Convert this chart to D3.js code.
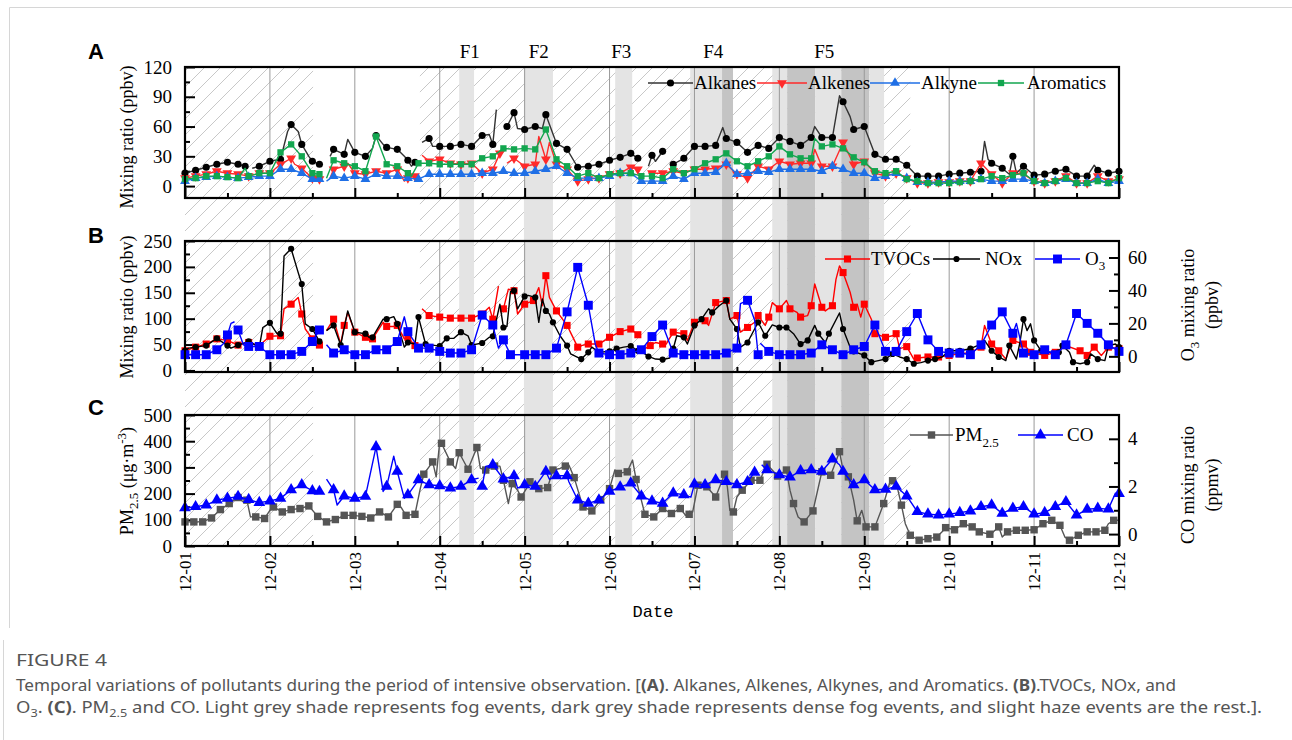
<!DOCTYPE html>
<html>
<head>
<meta charset="utf-8">
<script src="https://cdn.jsdelivr.net/npm/d3@7"></script>
<style>
  body { margin: 0; background: #fff; }
</style>
</head>
<body>
<svg id="chart" width="1292" height="740" font-family="Liberation Serif, Times New Roman, serif"></svg>
<script>
// ---------------------------------------------
// data: hours since 12-01 00:00, value (null = gap)
// ---------------------------------------------
const dayLabels = ["12-01","12-02","12-03","12-04","12-05","12-06","12-07","12-08","12-09","12-10","12-11","12-12"];

// slight haze periods (hatched) and fog / dense fog shades
const hazePeriods = [[0, 36.2], [66.4, 205]];
const fogBands = [
  [77.5, 81.7, "fog"], [95.8, 104, "fog"], [121.6, 126.4, "fog"],
  [142.8, 151.8, "fog"], [151.8, 154.9, "dense"],
  [166, 170.2, "fog"], [170.2, 178.1, "dense"], [178.1, 185.5, "fog"],
  [185.5, 193.4, "dense"], [193.4, 197.6, "fog"]
];
const fogLabels = [["F1", 80.5], ["F2", 100], ["F3", 123.3], ["F4", 149.3], ["F5", 180.7]];

// panel A (ppbv)
const alkanes = [[0,13],[3,16],[6,19],[9,22],[12,24],[15,22],[17,20],[18,null],[19,18],[21,20],[24,25],[27,27],[29,55],[30,62],[32,55],[33,42],[35,30],[36,25],[38,22],[39,null],[41,30],[42,37],[45,32],[46,47],[48,34],[51,30],[53,38],[54,51],[56,42],[57,39],[60,37],[62,30],[63,26],[64,20],[65,24],[66,null],[67,44],[69,48],[70,40],[72,40],[75,40],[78,42],[81,40],[84,51],[86,52],[87,42],[88,77],[89,null],[91,60],[93,74],[94,58],[96,57],[99,60],[101,58],[102,72],[105,43],[108,37],[111,19],[114,20],[117,22],[120,26],[123,29],[126,33],[128,28],[129,null],[131,20],[132,31],[133,25],[135,35],[136,null],[138,22],[141,28],[144,40],[147,40],[150,41],[152,59],[153,48],[156,44],[159,34],[162,41],[165,38],[168,49],[171,45],[174,41],[177,49],[178,60],[180,49],[183,49],[185,91],[186,85],[188,70],[189,57],[192,60],[195,32],[198,27],[201,27],[204,21],[207,10],[210,10],[213,10],[216,12],[219,13],[222,14],[225,15],[226,45],[227,27],[228,23],[231,18],[233,12],[234,30],[235,13],[237,20],[240,11],[243,12],[246,15],[249,17],[252,10],[255,10],[257,21],[258,16],[261,13],[264,15]];
const alkenes = [[0,8],[3,10],[6,12],[9,15],[12,13],[15,12],[18,10],[21,13],[24,13],[27,22],[30,28],[31,22],[33,18],[36,8],[38,7],[39,null],[41,8],[42,17],[45,20],[46,23],[48,13],[51,12],[54,15],[57,13],[60,17],[62,5],[63,8],[65,10],[66,null],[67,31],[69,25],[72,27],[75,23],[78,22],[81,23],[84,13],[87,17],[89,33],[90,null],[91,23],[93,28],[96,20],[99,22],[100,50],[102,27],[103,44],[105,22],[108,17],[111,5],[114,7],[117,8],[120,12],[123,13],[126,19],[128,17],[129,null],[131,13],[132,13],[135,13],[138,15],[141,13],[144,17],[147,17],[150,18],[153,22],[156,12],[159,8],[162,20],[165,17],[168,25],[171,22],[174,23],[177,23],[178,37],[180,20],[183,20],[186,44],[189,22],[192,25],[195,13],[198,10],[201,13],[204,8],[207,3],[210,3],[213,4],[216,4],[219,5],[222,5],[225,23],[228,12],[231,3],[234,13],[237,12],[240,5],[243,3],[246,5],[249,10],[252,3],[255,3],[258,10],[261,5],[264,7]];
const alkyne = [[0,5],[3,8],[6,9],[9,10],[12,9],[15,8],[18,9],[21,10],[24,10],[27,17],[30,17],[33,13],[36,7],[38,7],[39,null],[40,5],[42,10],[45,8],[48,10],[51,7],[54,12],[57,10],[60,10],[63,8],[66,7],[69,12],[72,12],[75,12],[78,12],[81,12],[84,13],[87,13],[90,15],[93,13],[96,13],[99,15],[102,17],[105,20],[108,13],[111,8],[114,8],[117,8],[120,10],[123,13],[126,13],[129,5],[132,5],[135,5],[138,10],[141,7],[144,13],[147,13],[150,14],[153,23],[156,12],[159,13],[162,15],[165,14],[168,17],[171,17],[174,17],[177,17],[180,15],[183,20],[186,17],[189,13],[192,13],[195,8],[198,10],[201,13],[204,8],[207,4],[210,4],[213,4],[216,5],[219,5],[222,5],[225,7],[228,5],[231,5],[234,7],[237,7],[240,5],[243,3],[246,5],[249,7],[252,3],[255,3],[258,7],[261,3],[264,5]];
const aromatics = [[0,7],[3,8],[6,10],[9,10],[12,9],[15,8],[17,18],[18,10],[21,13],[24,13],[27,34],[30,42],[33,30],[36,13],[38,12],[39,null],[40,8],[42,26],[45,23],[48,20],[51,15],[54,50],[57,22],[60,20],[63,13],[64,10],[66,23],[69,23],[72,22],[75,22],[78,22],[81,22],[84,28],[87,30],[90,38],[93,37],[96,38],[99,37],[102,57],[105,27],[108,20],[111,10],[114,13],[117,8],[120,12],[123,13],[126,13],[129,10],[132,10],[135,8],[138,17],[141,13],[144,17],[147,23],[150,27],[153,33],[156,25],[159,20],[162,25],[165,30],[168,40],[171,32],[174,28],[177,28],[178,48],[180,40],[183,42],[186,38],[189,29],[192,24],[195,15],[198,13],[201,15],[204,7],[207,5],[210,3],[213,3],[216,3],[219,4],[222,5],[225,7],[228,10],[231,8],[234,11],[237,13],[240,5],[243,3],[246,5],[249,8],[252,3],[255,3],[258,5],[261,3],[264,8]];

// panel B (ppbv)
const tvocs = [[0,38],[3,45],[6,51],[9,61],[12,58],[15,49],[18,54],[21,48],[24,66],[27,67],[28,119],[30,128],[32,141],[33,109],[34,80],[36,61],[38,49],[39,null],[40,77],[42,99],[44,51],[45,87],[46,112],[48,74],[51,64],[53,61],[56,93],[57,85],[59,85],[60,87],[62,61],[63,64],[65,48],[66,null],[67,119],[69,106],[72,103],[75,101],[78,101],[81,101],[84,109],[86,122],[87,99],[88.6,163],[89.2,null],[90,119],[91.4,157],[93,154],[94,109],[96,128],[98.5,135],[100,160],[101,125],[102,183],[103,141],[105,115],[108,87],[111,45],[112,48],[114,51],[117,51],[120,64],[123,75],[126,80],[128,69],[129,null],[130,42],[131.5,48],[133,54],[135,51],[136,51],[138,74],[141,71],[142,58],[144,93],[147,96],[148,87],[150,131],[153,135],[154,99],[156,106],[157,74],[159,83],[161,93],[162,106],[164,87],[165,103],[166,131],[168,119],[170,135],[171,119],[173,112],[174,103],[176,106],[177,125],[178,167],[180,122],[181,115],[183,125],[184,176],[185,202],[186,189],[188,151],[189,122],[190,128],[191,103],[192,128],[194,99],[195,71],[198,64],[200,67],[201,71],[202,42],[204,46],[206,22],[207,24],[210,26],[213,26],[216,29],[219,32],[222,35],[225,45],[226,87],[228,51],[230,38],[232,22],[234,58],[237,51],[239,35],[243,29],[246,35],[249,48],[253,38],[255,29],[257,45],[259,29],[261,45],[264,42]];
const nox = [[0,38],[1,43],[3,45],[6,48],[9,62],[12,48],[13,43],[15,49],[18,56],[21,45],[22,83],[24,92],[26,71],[27,71],[28,221],[30,235],[32,189],[33,167],[34,90],[36,80],[38,56],[39,null],[40,77],[42,87],[44,49],[46,115],[48,74],[51,71],[52,64],[53,64],[56,99],[57,99],[59,104],[60,90],[62,45],[63,54],[65,51],[66,103],[68,51],[70,49],[72,47],[74,62],[76,62],[78,74],[80,67],[81,49],[84,53],[86,64],[87,66],[89,128],[90,83],[91,85],[92,152],[93,154],[94,119],[96,143],[97,145],[99,141],[100,93],[101,138],[102,115],[103,109],[104,93],[106,67],[108,48],[109,32],[112,22],[114,35],[115,45],[117,35],[120,37],[122,42],[124,45],[126,47],[128,38],[130,32],[131,27],[133,22],[135,21],[137,24],[138,42],[139,67],[141,64],[142,51],[144,87],[146,99],[148,119],[149,112],[151,125],[153,135],[154,99],[156,80],[157,45],[159,54],[161,80],[162,93],[164,67],[166,88],[168,83],[170,83],[172,71],[174,51],[176,58],[178,87],[179,71],[181,54],[182,71],[185,111],[186,80],[188,45],[189,37],[192,29],[194,16],[196,19],[198,22],[200,32],[202,26],[204,22],[206,13],[208,15],[210,19],[212,22],[214,26],[216,38],[219,38],[222,42],[223,45],[225,51],[226,58],[228,38],[230,26],[232,19],[233,48],[235,22],[236,54],[237,99],[238,77],[239,90],[240,58],[242,38],[244,35],[247,35],[248,48],[250,35],[251,16],[253,13],[255,16],[256,32],[258,22],[260,19],[261,48],[263,51],[264,45]];
const o3 = [[0,1],[3,1],[6,1],[9,4],[11,8],[12,13],[13,20],[14,21],[14.4,null],[14.6,16],[15,16],[16.5,7],[18,6],[21,6],[24,1],[27,1],[30,1],[33,3],[36,9],[38,16],[39,null],[40,7],[42,2],[45,4],[48,1],[51,1],[54,4],[57,4],[60,9],[62,24],[63,15],[66,5],[69,5],[72,3],[75,2],[78,2],[81,4],[84,25],[87,19],[88.6,5],[90,10],[92,1],[96,1],[99,1],[102,1],[105,5],[108,27],[111,54],[114,31],[116,7],[117,2],[120,1],[123,1],[126,2],[129,4],[132,12],[135,19],[138,2],[141,1],[144,1],[147,1],[150,1],[153,2],[156,5],[157,32],[159,34],[161,22],[162,1],[162.4,null],[162.6,8],[165,3],[168,1],[171,1],[174,1],[177,2],[180,7],[183,4],[186,1],[189,4],[192,6],[195,19],[198,3],[201,3],[204,15],[207,26],[210,10],[213,3],[216,2],[219,2],[222,1],[225,7],[228,19],[231,27],[234,14],[235,20],[237,2],[240,1],[243,4],[246,1],[249,7],[252,26],[255,20],[258,14],[261,7],[264,3]];

// panel C: PM2.5 (ug/m3) and CO (ppmv)
const pm25 = [[0,92],[2.5,92],[5,92],[7.5,107],[10,139],[12.5,162],[15,185],[16.5,168],[17.5,175],[18.5,111],[20,111],[22.5,105],[24,136],[25,149],[27.5,130],[30,139],[32.5,143],[35,153],[37.5,113],[40,92],[42.5,101],[45,117],[47.5,117],[50,113],[52.5,107],[55,130],[57.5,111],[60,159],[61,149],[62.5,117],[65,121],[66.5,219],[67.5,274],[70,321],[71,264],[72,398],[72.5,392],[75,321],[76.5,296],[77.5,356],[80,293],[82.5,376],[83.5,296],[85,290],[87.5,305],[89,305],[90,251],[91.4,162],[92.5,238],[94,213],[95,187],[96.5,219],[97.5,245],[100,219],[102.5,223],[104,290],[106,296],[107.5,305],[108.5,309],[110,261],[112.5,149],[115,134],[117.5,177],[120,219],[121.5,290],[122.5,277],[125,283],[126.5,328],[127.5,254],[130,121],[132.5,111],[135,143],[137.5,124],[140,143],[141.5,117],[142.5,121],[143.5,130],[145,232],[147.5,226],[150,187],[152.5,274],[153.3,226],[154,136],[155,130],[156,187],[157.5,213],[160,251],[162.5,251],[164.5,312],[167.5,267],[170,290],[171,213],[172,162],[173.3,111],[175,92],[177.5,134],[180,283],[182.5,270],[185,360],[186,290],[187.5,264],[189,175],[190,96],[191.3,136],[192.5,73],[195,73],[197.5,162],[199.4,251],[200,249],[201.3,226],[202.5,156],[203.6,85],[205,41],[207.5,22],[210,28],[212.5,34],[214,54],[215,70],[217.5,62],[220,85],[222.5,73],[224.5,54],[227.5,45],[228.5,54],[230,73],[231,34],[232.5,54],[235,60],[237.5,60],[240,62],[242.5,85],[245,98],[247.3,79],[248.7,34],[250,22],[252.5,41],[255,54],[257.5,54],[260,60],[261,85],[262.5,98],[264,98]];
const co = [[0,1.1],[3,1.15],[6,1.22],[9,1.43],[12,1.5],[15,1.58],[18,1.45],[21,1.32],[24,1.39],[27,1.5],[30,1.86],[33,2.07],[36,1.82],[38,1.79],[39,null],[40,2.31],[42,1.86],[43,1.22],[45,1.6],[48,1.5],[51,1.58],[54,3.66],[56,1.79],[57,2.0],[59,3.27],[60,2.63],[62,1.5],[63,1.65],[66,2.28],[69,2.07],[72,2.03],[75,1.93],[78,2.0],[81,2.28],[83,2.35],[83.5,null],[84,2.0],[85,2.84],[87,2.91],[90,2.31],[93,2.45],[94,1.93],[96,2.07],[99,2.0],[102,2.63],[103,2.3],[105,2.45],[108,2.45],[108.5,2.2],[111,1.43],[114,1.29],[117,1.43],[120,1.79],[123,1.97],[126,2.14],[129,1.6],[132,1.39],[135,1.29],[138,1.72],[141,1.65],[143,1.55],[144,2.1],[147,2.07],[150,2.28],[153,2.2],[156,2.07],[159,2.2],[161,2.59],[162,null],[163,2.91],[164.5,2.7],[168,2.49],[171,2.39],[174,2.66],[177,2.7],[180,2.63],[183,3.15],[185,2.91],[186,2.63],[189,2.07],[192,2.28],[195,1.86],[198,1.88],[201,2.0],[204,1.6],[207,0.94],[210,0.84],[213,0.8],[216,0.84],[219,0.9],[222,0.97],[225,1.15],[228,1.22],[231,0.87],[234,1.08],[237,1.15],[240,0.84],[243,0.9],[246,1.15],[249,1.36],[252,0.8],[255,1.04],[258,1.08],[261,1.05],[263,1.72],[264,1.7]];

// ---------------------------------------------
const svg = d3.select("#chart");
const serif = "Liberation Serif, Times New Roman, serif";

const x = d3.scaleLinear().domain([0, 264]).range([185, 1119]);
const dayHours = d3.range(0, 265, 24);
const halfHours = d3.range(12, 264, 24);
const bandTop = 67, bandBottom = 546;

// hatch pattern for slight haze
const defs = svg.append("defs");
defs.append("pattern")
  .attr("id", "hatch")
  .attr("patternUnits", "userSpaceOnUse")
  .attr("width", 16).attr("height", 16)
  .append("path")
  .attr("d", "M-4,4L4,-4M0,16L16,0M12,20L20,12")
  .attr("stroke", "#c2c2c2")
  .attr("stroke-width", 0.9);

// outer light frame
svg.append("path")
  .attr("d", "M9.5,628V7.5H1292")
  .attr("fill", "none").attr("stroke", "#d6d6d6");
svg.append("line")
  .attr("x1", 3.5).attr("x2", 3.5).attr("y1", 640).attr("y2", 740)
  .attr("stroke", "#d6d6d6");

// ============================
// background shading
// ============================
const bg = svg.append("g");
bg.selectAll(".haze")
  .data(hazePeriods)
  .join("rect")
  .attr("class", "haze")
  .attr("x", d => x(d[0]))
  .attr("width", d => x(d[1]) - x(d[0]))
  .attr("y", bandTop)
  .attr("height", bandBottom - bandTop)
  .attr("fill", "url(#hatch)");

bg.selectAll(".fog")
  .data(fogBands)
  .join("rect")
  .attr("class", "fog")
  .attr("x", d => x(d[0]))
  .attr("width", d => x(d[1]) - x(d[0]))
  .attr("y", bandTop)
  .attr("height", bandBottom - bandTop)
  .attr("fill", d => d[2] === "dense" ? "#c4c4c4" : "#e4e4e4");

svg.append("g").selectAll("text")
  .data(fogLabels)
  .join("text")
  .attr("x", d => x(d[1]))
  .attr("y", 58)
  .attr("text-anchor", "middle")
  .attr("font-size", 19)
  .text(d => d[0]);

// ============================
// helpers
// ============================
// pick the data vertex nearest to every step-th hour to carry a marker
function markerPoints(data, step) {
  const pts = data.filter(d => d[1] != null);
  const out = [];
  for (let k = 0; k <= 264.001; k += step) {
    let best = null, bd = Infinity;
    pts.forEach(p => {
      const dd = Math.abs(p[0] - k);
      if (dd < bd) { bd = dd; best = p; }
    });
    if (best && bd <= step / 2 && out[out.length - 1] !== best) out.push(best);
  }
  return out;
}

const shapes = {
  circle: d3.symbol().type(d3.symbolCircle),
  triangle: d3.symbol().type(d3.symbolTriangle),
  square: d3.symbol().type(d3.symbolSquare)
};

function drawSeries(g, s, y) {
  const line = d3.line()
    .defined(d => d[1] != null)
    .x(d => x(d[0]))
    .y(d => y(d[1]));

  g.append("path")
    .datum(s.data)
    .attr("fill", "none")
    .attr("stroke", s.color)
    .attr("stroke-width", 1.4)
    .attr("stroke-linejoin", "round")
    .attr("d", line);

  g.append("g")
    .selectAll("path")
    .data(markerPoints(s.data, s.step))
    .join("path")
    .attr("d", shapes[s.shape].size(s.size)())
    .attr("fill", s.markColor || s.color)
    .attr("transform", d => `translate(${x(d[0])},${y(d[1])})` + (s.down ? " rotate(180)" : ""));
}

function drawLegendItem(g, s, x1, x2, ly, label) {
  g.append("line")
    .attr("x1", x1).attr("x2", x2)
    .attr("y1", ly).attr("y2", ly)
    .attr("stroke", s.color).attr("stroke-width", 1.4);
  g.append("path")
    .attr("d", shapes[s.shape].size(s.size)())
    .attr("fill", s.markColor || s.color)
    .attr("transform", `translate(${(x1 + x2) / 2},${ly})` + (s.down ? " rotate(180)" : ""));
  const t = g.append("text")
    .attr("x", x2 + 1)
    .attr("y", ly + 6)
    .attr("font-size", 19);
  label(t);
}

function yAxis(g, scale, side, fmt, major, minor, xPos) {
  const ax = side === "left" ? d3.axisLeft : d3.axisRight;
  g.append("g")
    .attr("transform", `translate(${xPos},0)`)
    .call(ax(scale).tickValues(minor).tickSize(-5).tickFormat(""))
    .call(a => a.select(".domain").remove())
    .call(a => a.selectAll("line").attr("stroke-width", 2));
  g.append("g")
    .attr("transform", `translate(${xPos},0)`)
    .call(ax(scale).tickValues(major).tickSize(-10).tickPadding(side === "left" ? 13 : 9).tickFormat(d3.format("d")))
    .call(a => a.select(".domain").remove())
    .call(a => a.selectAll("line").attr("stroke-width", 2))
    .call(a => a.attr("font-family", serif).attr("font-size", 19))
    .call(a => a.selectAll("text").attr("fill", "#000"));
}

function frame(g, top, bottom, withLabels) {
  // day grid lines
  g.append("g").selectAll("line")
    .data(dayHours.slice(1, -1))
    .join("line")
    .attr("x1", d => x(d)).attr("x2", d => x(d))
    .attr("y1", top).attr("y2", bottom)
    .attr("stroke", "#9a9a9a").attr("stroke-width", 1);

  g.append("g")
    .attr("transform", `translate(0,${bottom})`)
    .call(d3.axisBottom(x).tickValues(halfHours).tickSize(-5).tickFormat(""))
    .call(a => a.select(".domain").remove())
    .call(a => a.selectAll("line").attr("stroke-width", 2));
  g.append("g")
    .attr("transform", `translate(0,${bottom})`)
    .call(d3.axisBottom(x).tickValues(dayHours).tickSize(-10).tickFormat(""))
    .call(a => a.select(".domain").remove())
    .call(a => a.selectAll("line").attr("stroke-width", 2));

  if (withLabels) {
    g.append("g").selectAll("text")
      .data(dayHours)
      .join("text")
      .attr("transform", d => `translate(${x(d) + 6},${bottom + 6}) rotate(-90)`)
      .attr("text-anchor", "end")
      .attr("font-size", 17)
      .text((d, i) => dayLabels[i]);
  }
}

function border(g, top, bottom) {
  g.append("rect")
    .attr("x", x.range()[0]).attr("y", top)
    .attr("width", x.range()[1] - x.range()[0])
    .attr("height", bottom - top)
    .attr("fill", "none")
    .attr("stroke", "#000")
    .attr("stroke-width", 2.2);
}

function panelLetter(txt, yy) {
  svg.append("text")
    .attr("x", 88).attr("y", yy)
    .attr("font-family", "Liberation Sans, Arial, sans-serif")
    .attr("font-weight", "bold")
    .attr("font-size", 22)
    .text(txt);
}

function verticalTitle(cx, cy, build) {
  const t = svg.append("text")
    .attr("transform", `translate(${cx},${cy}) rotate(-90)`)
    .attr("text-anchor", "middle")
    .attr("font-size", 18);
  build(t);
}

// ============================
// Panel A
// ============================
const yA = d3.scaleLinear().domain([-12, 120]).range([198, 67]);
const gA = svg.append("g");
frame(gA, 67, 198, false);
yAxis(gA, yA, "left", null, [0, 30, 60, 90, 120], [15, 45, 75, 105], 185);

const seriesA = [
  {data: alkanes, color: "#333333", markColor: "#000", shape: "circle", size: 40, step: 3},
  {data: alkenes, color: "#ff2a2a", shape: "triangle", size: 42, step: 3, down: true},
  {data: alkyne, color: "#1f6fe6", shape: "triangle", size: 42, step: 3},
  {data: aromatics, color: "#12a64f", shape: "square", size: 40, step: 3}
];
seriesA.forEach(s => drawSeries(gA, s, yA));
border(gA, 67, 198);

const legA = svg.append("g");
drawLegendItem(legA, seriesA[0], 648, 693, 83, t => t.text("Alkanes"));
drawLegendItem(legA, seriesA[1], 757, 807, 83, t => t.text("Alkenes"));
drawLegendItem(legA, seriesA[2], 870, 920, 83, t => t.text("Alkyne"));
drawLegendItem(legA, seriesA[3], 978, 1024, 83, t => t.attr("x", 1027).text("Aromatics"));

panelLetter("A", 59);
verticalTitle(133, 137, t => t.text("Mixing ratio (ppbv)"));

// ============================
// Panel B
// ============================
const yB = d3.scaleLinear().domain([-3, 250]).range([372, 241]);
const yB2 = d3.scaleLinear().domain([-9.5, 70]).range([372, 241]);
const gB = svg.append("g");
frame(gB, 241, 372, false);
yAxis(gB, yB, "left", null, [0, 50, 100, 150, 200, 250], [25, 75, 125, 175, 225], 185);
yAxis(gB, yB2, "right", null, [0, 20, 40, 60], [10, 30, 50], 1119);

const seriesB = [
  {data: tvocs, color: "#ff0000", shape: "square", size: 50, step: 3, y: yB},
  {data: nox, color: "#000000", shape: "circle", size: 30, step: 3, y: yB},
  {data: o3, color: "#0000ff", shape: "square", size: 80, step: 3, y: yB2}
];
seriesB.forEach(s => drawSeries(gB, s, s.y));
border(gB, 241, 372);

const legB = svg.append("g");
drawLegendItem(legB, seriesB[0], 825, 870, 259, t => t.text("TVOCs"));
drawLegendItem(legB, seriesB[1], 933, 980, 259, t => t.attr("x", 985).text("NOx"));
drawLegendItem(legB, seriesB[2], 1035, 1080, 259, t => {
  t.attr("x", 1085);
  t.append("tspan").text("O");
  t.append("tspan").attr("dy", 5).attr("font-size", 13).text("3");
});

panelLetter("B", 243);
verticalTitle(133, 307, t => t.text("Mixing ratio (ppbv)"));
verticalTitle(1194, 305, t => {
  t.append("tspan").text("O");
  t.append("tspan").attr("dy", 5).attr("font-size", 13).text("3");
  t.append("tspan").attr("dy", -5).text(" mixing ratio");
});
verticalTitle(1218, 305, t => t.text("(ppbv)"));

// ============================
// Panel C
// ============================
const yC = d3.scaleLinear().domain([0, 500]).range([546, 415]);
const yC2 = d3.scaleLinear().domain([-0.5, 5]).range([546, 415]);
const gC = svg.append("g");
frame(gC, 415, 546, true);
yAxis(gC, yC, "left", null, [0, 100, 200, 300, 400, 500], [50, 150, 250, 350, 450], 185);
yAxis(gC, yC2, "right", null, [0, 2, 4], [1, 3], 1119);

const seriesC = [
  {data: pm25, color: "#555555", shape: "square", size: 55, step: 2.5, y: yC},
  {data: co, color: "#0000ff", shape: "triangle", size: 60, step: 3, y: yC2}
];
seriesC.forEach(s => drawSeries(gC, s, s.y));
border(gC, 415, 546);

const legC = svg.append("g");
drawLegendItem(legC, seriesC[0], 910, 953, 435, t => {
  t.attr("x", 955);
  t.append("tspan").text("PM");
  t.append("tspan").attr("dy", 6).attr("font-size", 13).text("2.5");
});
drawLegendItem(legC, seriesC[1], 1018, 1063, 435, t => t.attr("x", 1067).text("CO"));

panelLetter("C", 415);
verticalTitle(133, 481, t => {
  t.append("tspan").text("PM");
  t.append("tspan").attr("dy", 5).attr("font-size", 13).text("2.5");
  t.append("tspan").attr("dy", -5).text(" (μg·m");
  t.append("tspan").attr("dy", -7).attr("font-size", 13).text("-3");
  t.append("tspan").attr("dy", 7).text(")");
});
verticalTitle(1194, 485, t => t.text("CO mixing ratio"));
verticalTitle(1218, 485, t => t.text("(ppmv)"));

svg.append("text")
  .attr("x", 653).attr("y", 617)
  .attr("text-anchor", "middle")
  .attr("font-family", "Liberation Mono, DejaVu Sans Mono, monospace")
  .attr("font-size", 17)
  .text("Date");

// ============================
// caption
// ============================
const cap = svg.append("g")
  .attr("font-family", "Noto Sans, Open Sans, sans-serif")
  .attr("fill", "#555");

cap.append("text")
  .attr("x", 16).attr("y", 666)
  .attr("font-size", 17)
  .attr("textLength", 91)
  .attr("lengthAdjust", "spacingAndGlyphs")
  .text("FIGURE 4");

const cap1 = cap.append("text").attr("x", 16).attr("y", 691).attr("font-size", 16)
  .attr("textLength", 1160).attr("lengthAdjust", "spacingAndGlyphs");
cap1.append("tspan").text("Temporal variations of pollutants during the period of intensive observation. [");
cap1.append("tspan").attr("font-weight", "bold").text("(A)");
cap1.append("tspan").text(". Alkanes, Alkenes, Alkynes, and Aromatics. ");
cap1.append("tspan").attr("font-weight", "bold").text("(B)");
cap1.append("tspan").text(".TVOCs, NOx, and");

const cap2 = cap.append("text").attr("x", 16).attr("y", 713).attr("font-size", 16)
  .attr("textLength", 1246).attr("lengthAdjust", "spacingAndGlyphs");
cap2.append("tspan").text("O");
cap2.append("tspan").attr("dy", 4).attr("font-size", 11).text("3");
cap2.append("tspan").attr("dy", -4).text(". ");
cap2.append("tspan").attr("font-weight", "bold").text("(C)");
cap2.append("tspan").text(". PM");
cap2.append("tspan").attr("dy", 4).attr("font-size", 11).text("2.5");
cap2.append("tspan").attr("dy", -4).text(" and CO. Light grey shade represents fog events, dark grey shade represents dense fog events, and slight haze events are the rest.].");
</script>
</body>
</html>
